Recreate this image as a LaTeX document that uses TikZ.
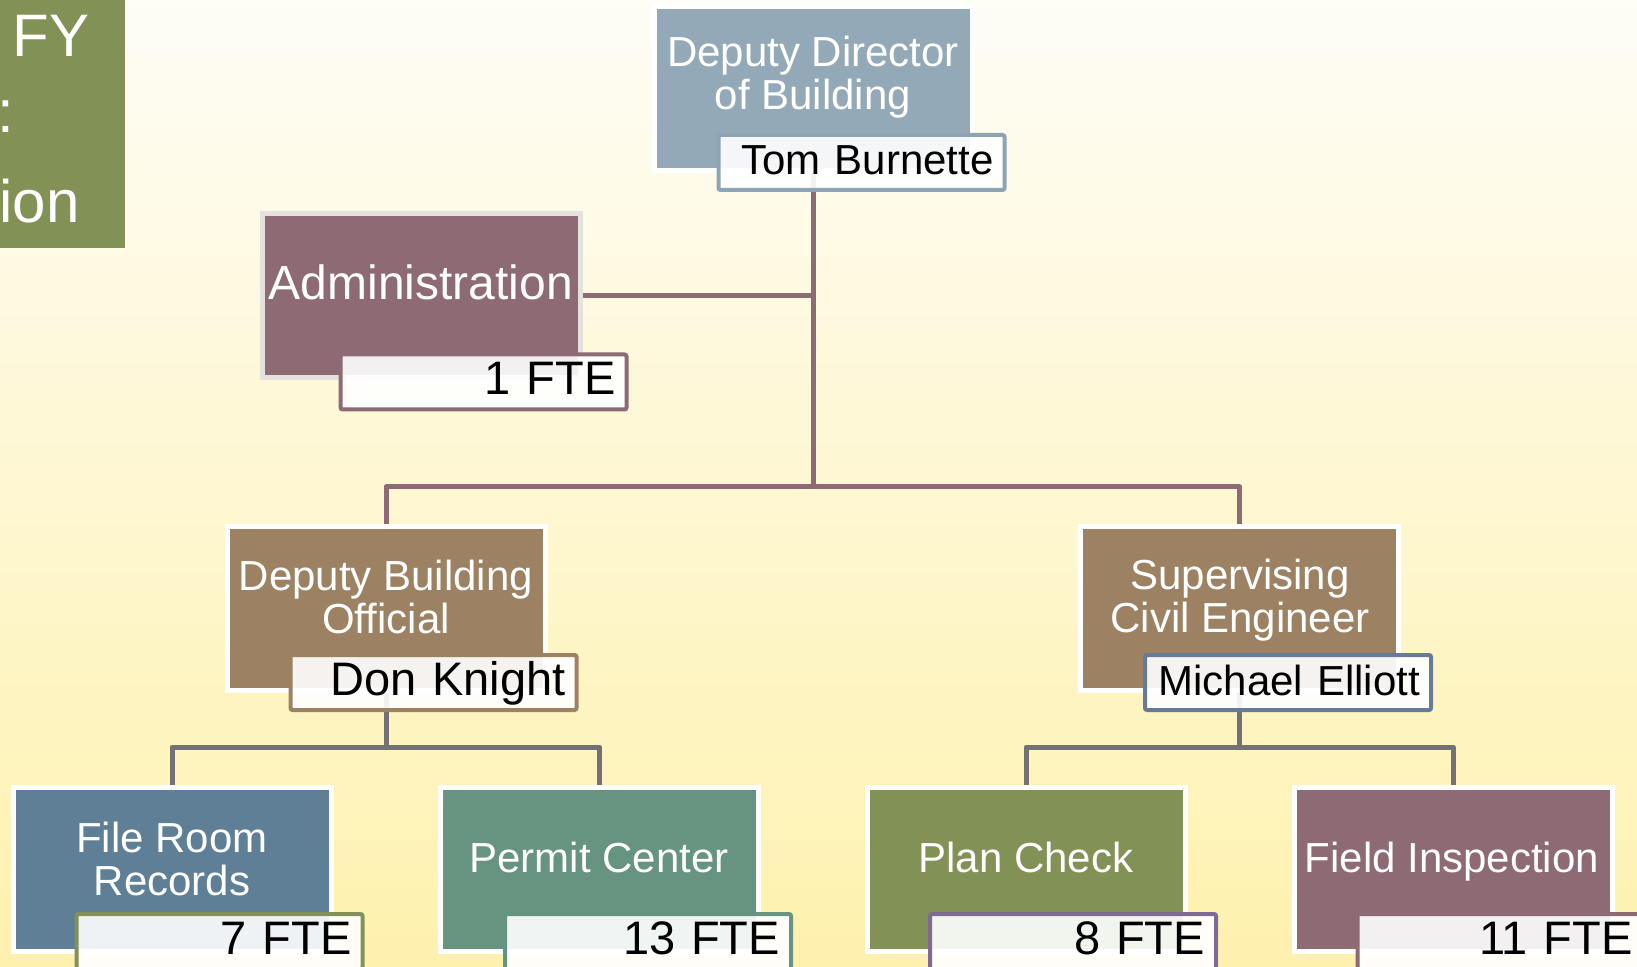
\documentclass[tikz,border=0pt]{standalone}
\usepackage{fontspec}
\setmainfont{Liberation Sans}
\definecolor{bgtop}{HTML}{FEFDF6}
\definecolor{bgbot}{HTML}{FEF1AE}
\definecolor{ddblue}{HTML}{93A9B8}
\definecolor{ddline}{HTML}{8EA4B4}
\definecolor{mauve}{HTML}{8E6A74}
\definecolor{brown}{HTML}{9C8262}
\definecolor{slate}{HTML}{687B95}
\definecolor{steel}{HTML}{5F7F96}
\definecolor{seagreen}{HTML}{669480}
\definecolor{olive}{HTML}{829257}
\definecolor{purp}{HTML}{7F6A93}
\definecolor{conngray}{HTML}{727174}
\definecolor{lightedge}{HTML}{E5E2DE}
\begin{document}
\begin{tikzpicture}[x=0.5pt,y=-0.5pt,
  box/.style={draw=white, line width=2.5pt, minimum width=159pt, minimum height=82pt, inner sep=0pt},
  boxtext/.style={text=white, align=center, anchor=base, inner sep=0pt, font=\fontsize{21}{21.5}\selectfont},
  namebox/.style={draw=#1, line width=2pt, fill=white, fill opacity=0.9, text opacity=1,
    minimum width=143pt, minimum height=27.5pt, text width=132pt, align=right,
    inner xsep=5.5pt, inner ysep=0pt, text height=16pt, text depth=3.5pt,
    rounded corners=1pt, font=\fontsize{21}{21}\selectfont},
  bigname/.style={font=\fontsize{23.5}{23.5}\selectfont},
  conna/.style={draw=mauve, line width=2.5pt, line join=round},
  connb/.style={draw=conngray, line width=2.5pt, line join=round},
  titletext/.style={text=white, anchor=base east, inner sep=0pt, font=\fontsize{30}{30}\selectfont}]
\useasboundingbox (0,0) rectangle (1637,967);
\clip (0,0) rectangle (1637,967);
\shade[top color=bgtop, bottom color=bgbot] (0,0) rectangle (1637,967);

% title fragment
\fill[olive] (0,0) rectangle (125,248);
\node[titletext] (t1) at (90,57) {FY};
\node[titletext] (t2) at (15,133) {:};
\node[titletext] (t3) at (80,223) {ion};

\coordinate (bus1) at (813.5,487);
\coordinate (bus2) at (386,747);
\coordinate (bus3) at (1239.5,747);

% boxes
\node[box, fill=ddblue] (dd) at (813.5,88.5) {};
\node[box, fill=mauve, draw=lightedge] (admin) at (421.5,296) {};
\node[box, fill=brown] (dbo) at (386,608.5) {};
\node[box, fill=brown] (sce) at (1239.5,608.5) {};
\node[box, fill=steel] (fr) at (172,869) {};
\node[box, fill=seagreen] (pc) at (599.5,869) {};
\node[box, fill=olive] (pl) at (1026,869) {};
\node[box, fill=mauve] (fi) at (1453,869) {};

% connectors
\draw[conna] (dd.south) -- (bus1);
\draw[conna] (admin.east) -- (admin.east -| dd.south);
\draw[conna] (dbo.north) |- (bus1) -| (sce.north);
\draw[connb] (dbo.south) -- (bus2);
\draw[connb] (fr.north) |- (bus2) -| (pc.north);
\draw[connb] (sce.south) -- (bus3);
\draw[connb] (pl.north) |- (bus3) -| (fi.north);

% texts (base anchor = last line's baseline)
\node[boxtext] (ddt) at (813,110) {Deputy Director\\of Building};
\node[boxtext, font=\fontsize{24}{24}\selectfont] (admint) at (421,300) {Administration};
\node[boxtext] (dbot) at (386,633) {Deputy Building\\Official};
\node[boxtext] (scet) at (1240,632) {Supervising\\Civil Engineer};
\node[boxtext] (frt) at (172,895) {File Room\\Records};
\node[boxtext] (pct) at (599,872) {Permit Center};
\node[boxtext] (plt) at (1026,872) {Plan Check};
\node[boxtext] (fit) at (1452,872) {Field Inspection};

% name boxes
\node[namebox=ddline] (tom) at (861.5,162.5) {Tom Burnette};
\node[namebox=mauve, bigname] (fte1) at (483.5,382) {1 FTE};
\node[namebox=brown, bigname] (don) at (433.5,682.5) {Don Knight};
\node[namebox=slate] (mike) at (1288,682.5) {Michael Elliott};
\node[namebox=olive, bigname] (fte7) at (219.5,941.5) {7 FTE};
\node[namebox=seagreen, bigname] (fte13) at (648,941.5) {13 FTE};
\node[namebox=purp, bigname] (fte8) at (1073,941.5) {8 FTE};
\node[namebox=mauve, bigname] (fte11) at (1500.5,941.5) {11 FTE};
\end{tikzpicture}
\end{document}
